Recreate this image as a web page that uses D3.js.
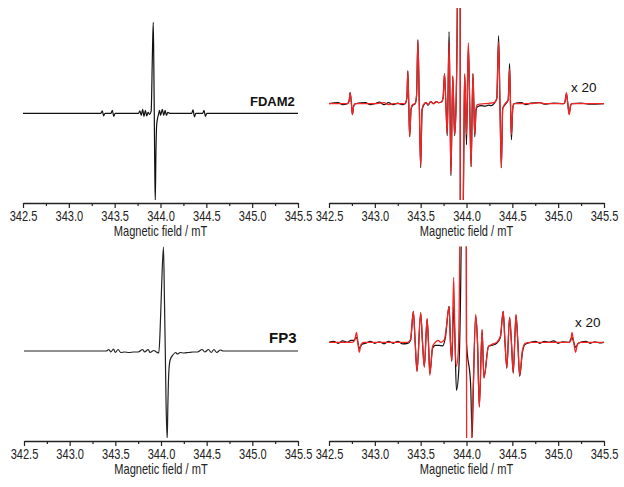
<!DOCTYPE html>
<html><head><meta charset="utf-8">
<script src="https://cdn.jsdelivr.net/npm/d3@7"></script>
<style>body{margin:0;background:#fff;} svg{display:block;}</style>
</head><body><svg id="c" width="624" height="487"></svg>
<script>
// ---------------- data ----------------
const fieldDomain = [342.5, 345.5];
const majorTicks = [342.5, 343.0, 343.5, 344.0, 344.5, 345.0, 345.5];
const minorTicks = [342.75, 343.25, 343.75, 344.25, 344.75, 345.25];
const axisTitle = "Magnetic field / mT";
const sampleNames = ["FDAM2", "FP3"];
const zoomLabel = "x 20";

// FDAM2, full scale (experimental)
const fdam2Field = [342.50,343.35,343.365,343.38,343.395,343.46,343.475,343.49,343.505,343.76,343.775,343.79,343.805,343.82,343.835,343.85,343.865,343.88,343.898,343.912,343.921,343.928,343.932,343.937,343.943,343.950,343.958,343.968,343.976,343.99,344.00,344.02,344.035,344.05,344.065,344.08,344.10,344.34,344.355,344.37,344.385,344.46,344.475,344.49,344.505,345.50];
const fdam2Exp   = [0,0,2.5,-2.5,0,0,3,-3,0,0,2.5,-2,4,-3,3,-2.5,1,-1,2,60,91,40,0,-50,-88,-40,-12,-5,-2,3,-2,4,-2,3,-2,1,0,0,3.5,-3.5,0,0,3,-3,0,0];

// FDAM2, x20 experimental (black)
const fdam2ExpZoomField = [342.50,342.60,342.65,342.70,342.72,342.73,342.745,342.755,342.77,342.79,342.90,342.95,343.00,343.05,343.10,343.15,343.20,343.25,343.30,343.33,343.35,343.36,343.37,343.38,343.395,343.41,343.44,343.455,343.47,343.485,343.50,343.515,343.53,343.56,343.58,343.61,343.64,343.67,343.70,343.73,343.745,343.76,343.775,343.79,343.81,343.82,343.83,343.85,343.86,343.87,343.885,343.90,343.908,343.921,343.928,343.932,343.937,343.943,343.950,343.958,343.966,343.973,343.98,343.99,344.00,344.02,344.035,344.05,344.07,344.08,344.09,344.105,344.12,344.16,344.20,344.24,344.27,344.30,344.33,344.35,344.365,344.38,344.395,344.42,344.455,344.47,344.48,344.49,344.505,344.52,344.60,344.65,344.70,344.80,344.85,344.95,345.06,345.075,345.09,345.105,345.12,345.135,345.15,345.25,345.35,345.50];
const fdam2ExpZoom = [0,1,-1,0,3,11,0,-11,-2,0,1,-1,0,1.5,-1,1,-1,0.5,-1,0,6,33,0,-33,-6,-2,0,8,64,0,-64,-7,-2,1,-1.5,2,0,2,1,2,6,30,0,-32,72,0,-72,27,0,-32,-5,100,1200,1820,800,0,-1000,-1760,-800,-240,-95,-25,28,0,-41,58,0,-63,30,0,-33,-6,-3,-2,-2.5,-1.5,-2,0,5,68,0,-64,-5,-1,4,40,0,-36,-4,0,1,-1,0.5,1,-0.5,0.5,0,2,10,0,-10,-2,0,0.5,-0.5,0];

// FDAM2, x20 simulation (red)
const fdam2SimField = [342.50,342.70,342.72,342.73,342.745,342.755,342.77,342.79,343.00,343.10,343.15,343.20,343.33,343.35,343.36,343.37,343.38,343.395,343.41,343.44,343.455,343.47,343.485,343.50,343.515,343.53,343.56,343.58,343.61,343.64,343.67,343.70,343.73,343.745,343.76,343.775,343.79,343.81,343.82,343.83,343.85,343.86,343.87,343.885,343.90,343.908,343.921,343.928,343.932,343.937,343.943,343.950,343.958,343.965,343.972,343.98,343.99,344.00,344.02,344.035,344.05,344.07,344.08,344.09,344.105,344.12,344.20,344.30,344.33,344.35,344.365,344.38,344.395,344.42,344.455,344.47,344.48,344.49,344.505,344.52,344.70,344.80,344.85,345.06,345.075,345.09,345.105,345.12,345.135,345.15,345.50];
const fdam2Sim = [0,0,3,11,0,-11,-2,0,0,1,-1,0,0,6,32,0,-33,-5,-1,0,8,63,0,-63,-6,-1,1,-1,2,0,2,1,2,6,30,0,-30,62,0,-70,28,0,-31,-5,100,1200,1820,800,0,-1000,-1760,-800,-240,-95,-20,30,0,-31,61,0,-63,30,0,-31,-4,-1,0,1,5,62,0,-64,-5,0,4,35,0,-31,-4,0,0,1,0,0,2,11,0,-11,-2,0,0];

// FP3, full scale (experimental)
const fp3Field = [342.50,343.40,343.43,343.45,343.48,343.50,343.53,343.56,343.60,343.65,343.70,343.75,343.80,343.82,343.86,343.88,343.92,343.95,343.976,343.99,344.005,344.027,344.038,344.047,344.055,344.068,344.075,344.085,344.10,344.13,344.16,344.18,344.21,344.25,344.30,344.35,344.40,344.45,344.48,344.52,344.55,344.58,344.61,344.65,344.68,345.50];
const fp3Exp   = [0,0,1.5,-1,2,-1.5,1.5,-1.5,-1,-1.5,-1,-1,1.5,-1,1.5,-1.5,0.5,-1,-2,20,60,104,50,0,-50,-88,-55,-22,-9,-4,-1.5,-3,-1.5,-2,-1.5,-1,-1,1.5,-1,1.5,-1.5,1.5,-1.5,1,0,0];

// FP3, x20 experimental (black)
const fp3ExpZoomField = [342.50,342.55,342.60,342.65,342.70,342.74,342.77,342.80,342.815,342.83,342.86,342.90,342.95,343.00,343.05,343.10,343.15,343.20,343.25,343.30,343.36,343.39,343.42,343.44,343.46,343.50,343.52,343.54,343.57,343.585,343.60,343.63,343.66,343.70,343.74,343.77,343.81,343.825,343.84,343.86,343.875,343.89,343.915,343.945,343.97,343.995,344.00,344.045,344.062,344.075,344.10,344.12,344.14,344.17,344.19,344.24,344.28,344.33,344.37,344.40,344.42,344.44,344.47,344.49,344.51,344.54,344.56,344.58,344.61,344.64,344.70,344.75,344.80,344.85,344.90,344.95,345.00,345.05,345.12,345.15,345.17,345.19,345.22,345.30,345.35,345.40,345.45,345.50];
const fp3ExpZoom = [0,1,-1,1.5,0,2,2,5,0,-6,-2,-1,1,-1,0.5,-1.5,1,-1,1,-1.5,-1,2,31,0,-29,29,0,-24,23,0,-31,-6,-3,-3,-3.5,5,36,0,-19,36,0,-48,-29,130,2000,300,0,-42,-95,-45,26,0,-64,12,-35,-4,-3,-1,5,31,0,-26,25,0,-31,27,0,-34,-10,-2,0,1,-1,1,0,1.5,-1,0.5,0,5,0,-5,-1,1,-1,0.5,-0.5,0];

// FP3, x20 simulation (red)
const fp3SimField = [342.50,342.75,342.78,342.80,342.815,342.83,342.85,342.88,343.36,343.39,343.42,343.44,343.46,343.50,343.52,343.54,343.57,343.585,343.60,343.63,343.66,343.69,343.72,343.76,343.78,343.81,343.825,343.84,343.86,343.875,343.89,343.91,343.93,343.96,343.995,344.00,344.005,344.03,344.055,344.075,344.10,344.12,344.14,344.17,344.19,344.24,344.28,344.33,344.37,344.40,344.42,344.44,344.47,344.49,344.51,344.54,344.56,344.58,344.61,344.64,344.70,345.12,345.14,345.15,345.17,345.19,345.21,345.24,345.50];
const fp3Sim = [0,0,2,10,0,-10,-2,0,0,3,31,0,-29,30,0,-25,24,0,-33,-4,0,2,0,3,15,36,0,-18,65,0,-24,-10,150,2000,300,0,-300,-2000,-110,-40,28,0,-65,13,-36,-4,-2,0,6,31,0,-25,25,0,-30,28,0,-33,-8,-1,0,0,2,10,0,-10,-2,0,0];

// ---------------- layout ----------------
const panels = [
  {x0:23,  x1:298, axisY:203, baseY:113.3, clipTop:5,
   traces:[{f:fdam2Field, v:fdam2Exp, c:"#111", w:1.2}],
   label:sampleNames[0], lx:250, ly:106, bold:true, fs:13},
  {x0:329, x1:604, axisY:203, baseY:103.7, clipTop:8,
   traces:[{f:fdam2ExpZoomField, v:fdam2ExpZoom, c:"#111", w:1.2},
           {f:fdam2SimField, v:fdam2Sim, c:"#f42424", w:1.3}],
   label:zoomLabel, lx:571, ly:92, bold:false, fs:13.5},
  {x0:24,  x1:298, axisY:441, baseY:351, clipTop:240,
   traces:[{f:fp3Field, v:fp3Exp, c:"#222", w:1.2}],
   label:sampleNames[1], lx:269, ly:343, bold:true, fs:15},
  {x0:329, x1:604, axisY:441, baseY:342.3, clipTop:246.5,
   traces:[{f:fp3ExpZoomField, v:fp3ExpZoom, c:"#111", w:1.2},
           {f:fp3SimField, v:fp3Sim, c:"#f42424", w:1.3}],
   label:zoomLabel, lx:575, ly:327, bold:false, fs:13.5}
];

const svg = d3.select("#c");
const fontFam = "'Liberation Sans', Arial, Helvetica, sans-serif";
const defs = svg.append("defs");

panels.forEach((p, i) => {
  const x = d3.scaleLinear().domain(fieldDomain).range([p.x0, p.x1]);
  const y = d3.scaleLinear().domain([-100, 100]).range([p.baseY + 100, p.baseY - 100]);

  defs.append("clipPath").attr("id", "clip" + i)
    .append("rect").attr("x", p.x0 - 2).attr("y", p.clipTop)
    .attr("width", p.x1 - p.x0 + 4).attr("height", p.axisY - 3 - p.clipTop);

  const line = d3.line().x(d => x(d[0])).y(d => y(d[1])).curve(d3.curveMonotoneX);
  const g = svg.append("g").attr("clip-path", `url(#clip${i})`);
  p.traces.forEach(t => {
    g.append("path").datum(d3.zip(t.f, t.v))
      .attr("d", line).attr("fill", "none")
      .attr("stroke", t.c).attr("stroke-width", t.w)
      .attr("stroke-linejoin", "round");
  });

  // major axis
  const ax = svg.append("g").attr("transform", `translate(0,${p.axisY})`)
    .call(d3.axisBottom(x).tickValues(majorTicks).tickSize(5).tickSizeOuter(0)
      .tickFormat(d3.format(".1f")));
  ax.select(".domain").attr("stroke", "#222").attr("stroke-width", 1.6);
  ax.selectAll(".tick line").attr("stroke", "#222").attr("stroke-width", 1.2);
  ax.selectAll(".tick text")
    .attr("y", 18.5).attr("dy", null)
    .attr("transform", "scale(0.79,1)")
    .attr("fill", "#222")
    .style("font-family", fontFam).style("font-size", "14px");
  // minor ticks
  const mx = svg.append("g").attr("transform", `translate(0,${p.axisY})`)
    .call(d3.axisBottom(x).tickValues(minorTicks).tickSize(3).tickSizeOuter(0).tickFormat(""));
  mx.select(".domain").remove();
  mx.selectAll(".tick line").attr("stroke", "#222").attr("stroke-width", 1.2);

  // axis title
  svg.append("text")
    .attr("transform", `translate(${(p.x0 + p.x1) / 2},${p.axisY + 33}) scale(0.79,1)`)
    .attr("text-anchor", "middle").attr("fill", "#222")
    .style("font-family", fontFam).style("font-size", "14px")
    .text(axisTitle);

  // panel label
  svg.append("text").attr("x", p.lx).attr("y", p.ly)
    .attr("fill", "#111")
    .style("font-family", fontFam).style("font-size", p.fs + "px")
    .style("font-weight", p.bold ? "bold" : "normal")
    .text(p.label);
});
</script>
</body></html>
